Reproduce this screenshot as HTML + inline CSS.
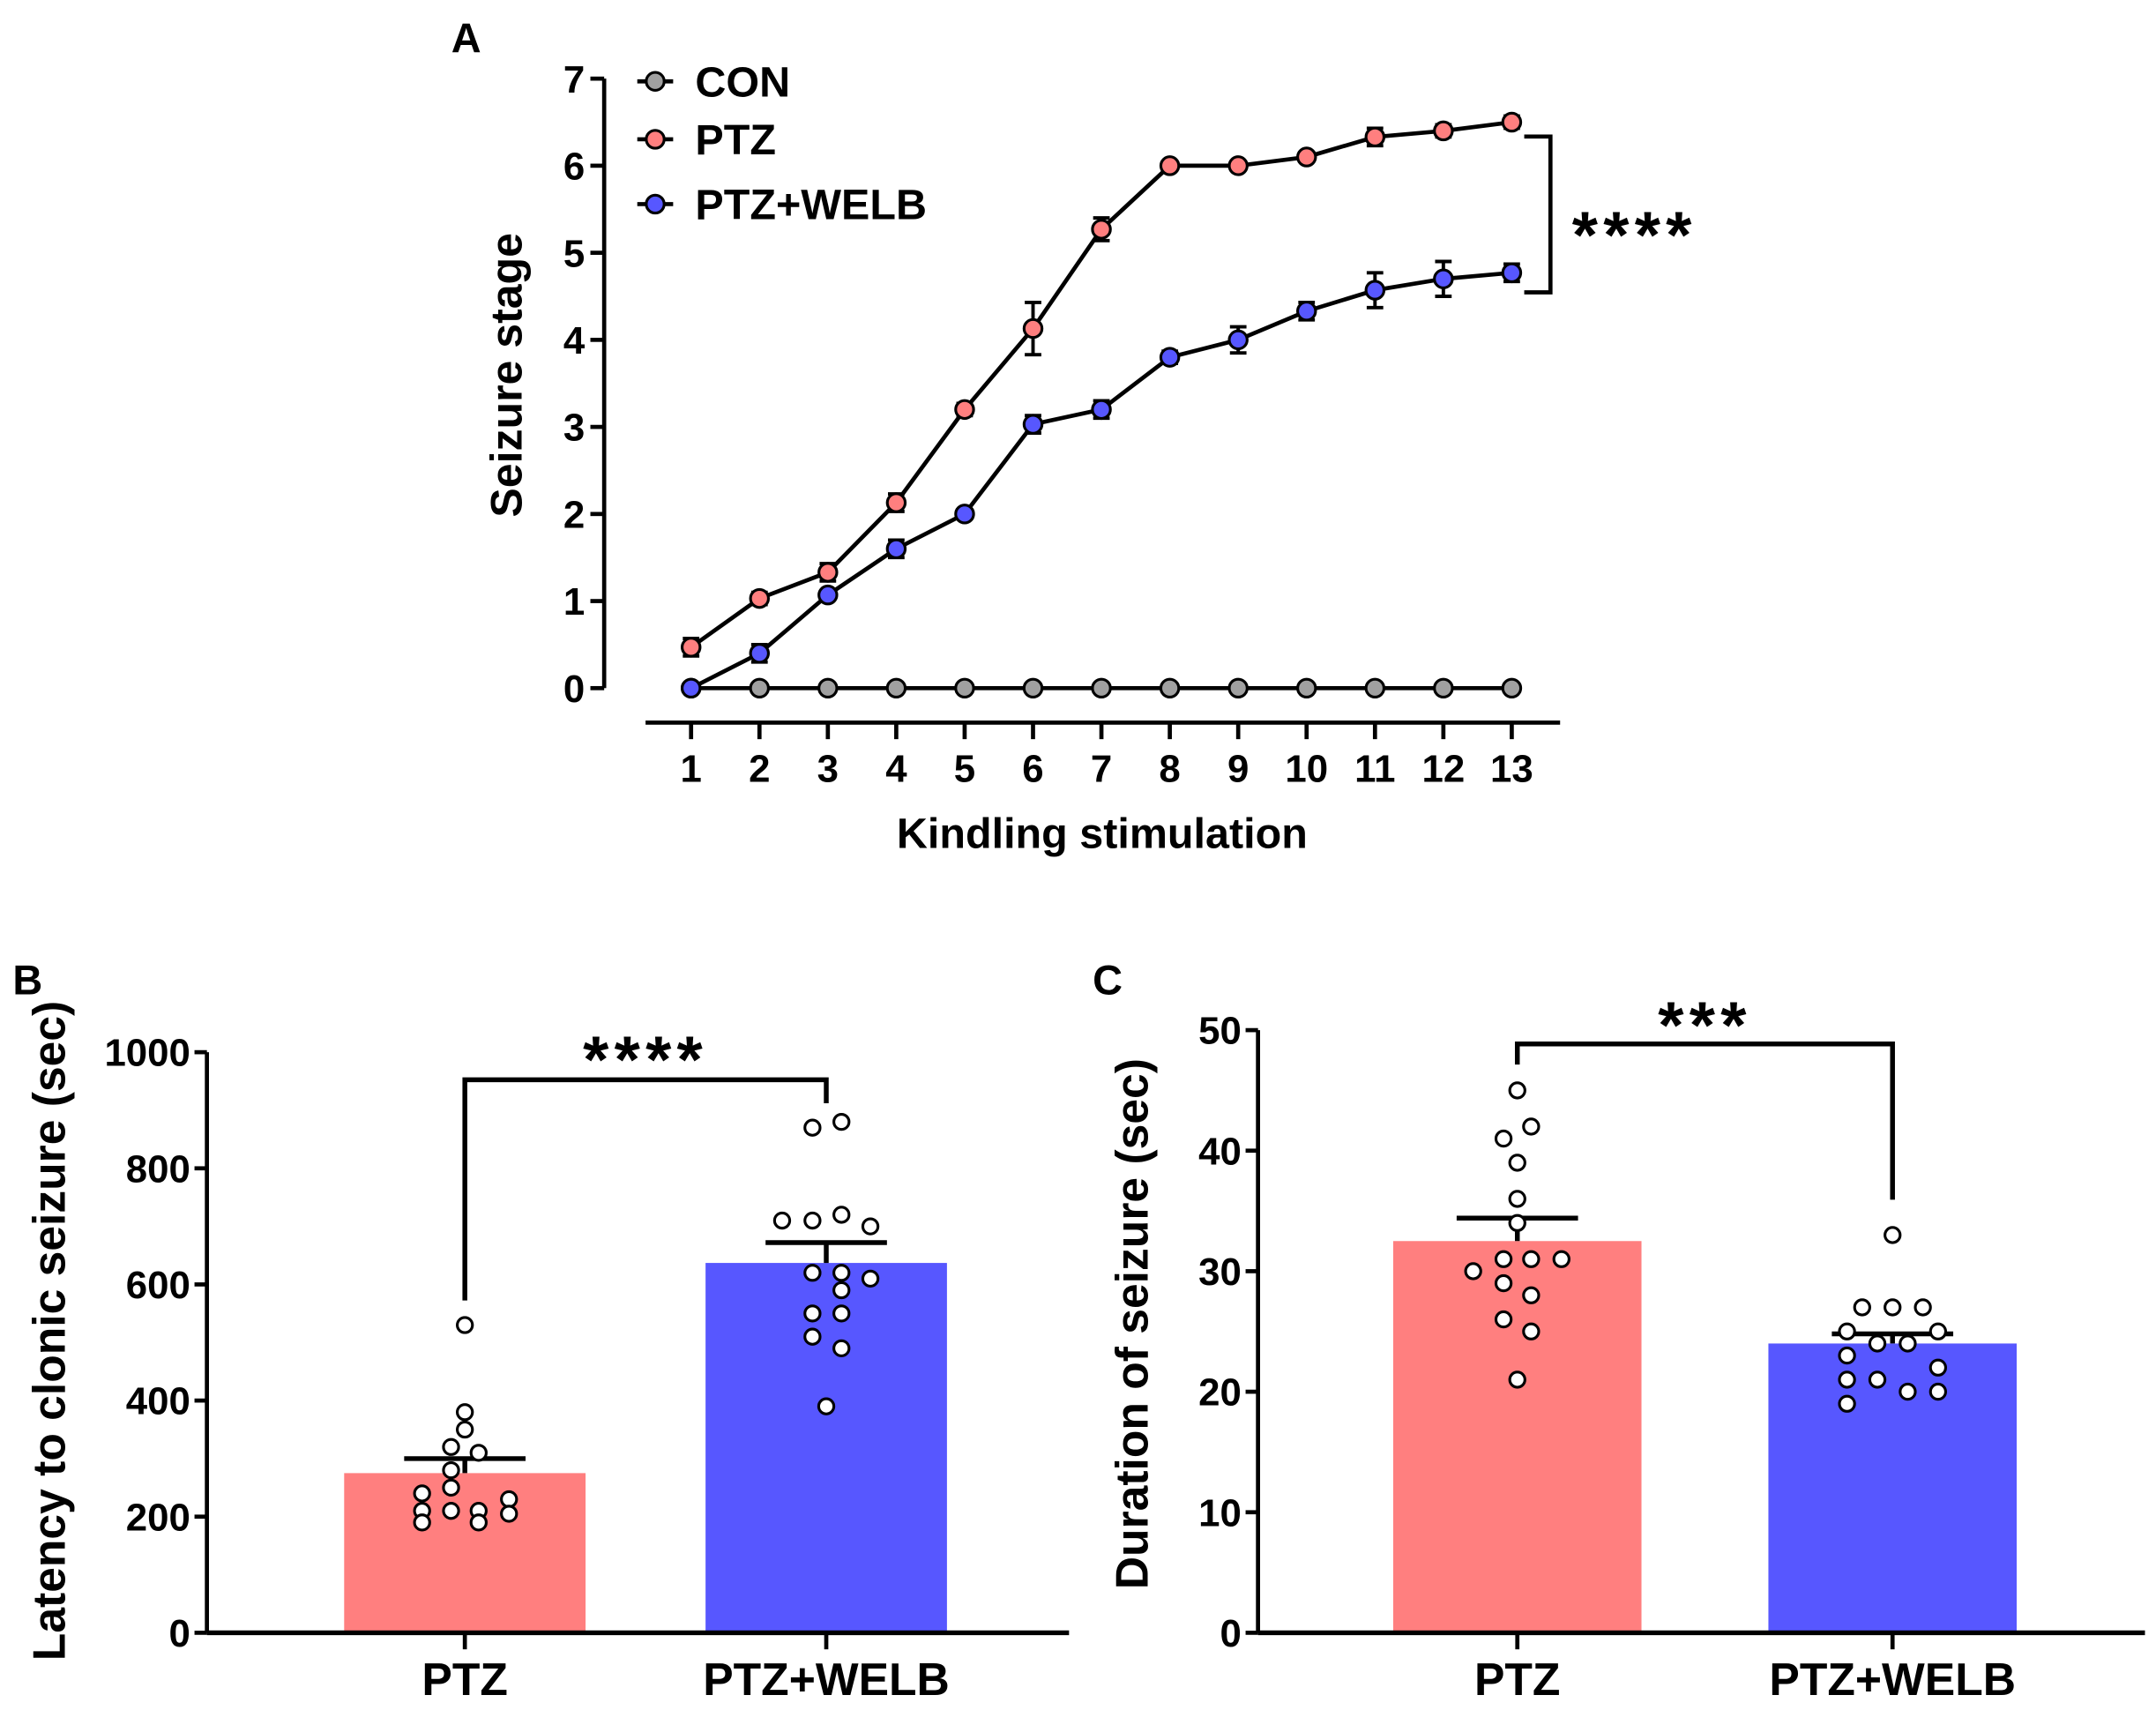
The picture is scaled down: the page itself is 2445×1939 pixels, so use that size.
<!DOCTYPE html>
<html><head><meta charset="utf-8"><style>
html,body{margin:0;padding:0;background:#fff;}
svg{display:block;font-family:"Liberation Sans",Arial,sans-serif;font-weight:bold;}
</style></head><body>
<svg id="fig" width="2445" height="1939" viewBox="0 0 1563 1240" preserveAspectRatio="none" xmlns="http://www.w3.org/2000/svg"></svg>
<script>
// Panel A data
const stimLabels = [1,2,3,4,5,6,7,8,9,10,11,12,13];
const conMean = [0,0,0,0,0,0,0,0,0,0,0,0,0];
const ptzMean = [0.47,1.03,1.33,2.13,3.2,4.13,5.27,6,6,6.1,6.33,6.4,6.5];
const ptzErr = [0.1,0.07,0.1,0.1,0.07,0.3,0.13,0.03,0.03,0.05,0.1,0.07,0.07];
const welbMean = [0,0.4,1.07,1.6,2,3.03,3.2,3.8,4,4.33,4.57,4.7,4.77];
const welbErr = [0,0.1,0.05,0.1,0.03,0.1,0.1,0.07,0.15,0.1,0.2,0.2,0.1];
const aTicks = [0,1,2,3,4,5,6,7];
// Panel B data
const groups = ["PTZ","PTZ+WELB"];
const latMean = [275,637];
const latSem = [25,35];
const latTicks = [0,200,400,600,800,1000];
const latPtzDots = [530,380,350,320,310,280,250,240,230,210,210,210,205,190,190];
const latPtzOff = [0,0,0,-10,10,-10,-10,-31,32,-31,-10,10,32,-31,10];
const latWelbDots = [880,870,720,710,710,700,620,620,610,590,550,550,510,490,390];
const latWelbOff = [11,-10,11,-32,-10,32,-10,11,32,11,-10,11,-10,11,0];
// Panel C data
const durMean = [32.5,24];
const durSem = [1.9,0.8];
const durTicks = [0,10,20,30,40,50];
const durPtzDots = [45,42,41,39,36,34,31,31,31,30,29,28,26,25,21];
const durPtzOff = [0,10,-10,0,0,0,-10,10,32,-32,-10,10,-10,10,0];
const durWelbDots = [33,27,27,27,25,25,24,24,23,22,21,21,20,20,19];
const durWelbOff = [0,-22,0,22,-33,33,-11,11,-33,33,-33,-11,11,33,-33];

const NS="http://www.w3.org/2000/svg";
const svg=document.getElementById('fig');
function mk(tag,attrs,parent){const e=document.createElementNS(NS,tag);for(const k in attrs)e.setAttribute(k,attrs[k]);(parent||svg).appendChild(e);return e;}
function txt(s,attrs,parent){const e=mk('text',attrs,parent);e.textContent=s;return e;}
const PINK="#FF7F7F",BLUE="#5757FF",GREY="#A0A0A0";

// ===== Panel A =====
const ax=v=>501+(v-1)*49.58;
const ay=v=>499-v*63.14;
const gA=mk('g',{});


let t=txt('A',{x:338,y:38,'font-size':30,'text-anchor':'middle'},gA);

let l=mk('line',{x1:438,y1:ay(7),x2:438,y2:ay(0),stroke:'#000','stroke-width':3},gA);

aTicks.forEach(v=>{
  const tk=mk('line',{x1:428,y1:ay(v),x2:438,y2:ay(v),stroke:'#000','stroke-width':3},gA);
  
  const tl=txt(String(v),{x:424,y:ay(v)+10,'font-size':28,'text-anchor':'end'},gA);
  
});
l=mk('line',{x1:468,y1:524,x2:1131,y2:524,stroke:'#000','stroke-width':3},gA);

stimLabels.forEach(v=>{
  const tk=mk('line',{x1:ax(v),y1:524,x2:ax(v),y2:536,stroke:'#000','stroke-width':3},gA);
  
  const tl=txt(String(v),{x:ax(v),y:567,'font-size':28,'text-anchor':'middle'},gA);
  
});
t=txt('Kindling stimulation',{x:799,y:615,'font-size':31,'text-anchor':'middle'},gA);

t=txt('Seizure stage',{x:0,y:0,'font-size':32,'text-anchor':'middle',transform:'translate(378,272) rotate(-90)'},gA);

function series(mean,err,color,name){
  const g=mk('g',{},gA);
  
  const pts=mean.map((v,i)=>ax(stimLabels[i])+','+ay(v)).join(' ');
  const pl=mk('polyline',{points:pts,fill:'none',stroke:'#000','stroke-width':3},g);
  
  mean.forEach((v,i)=>{
    const x=ax(stimLabels[i]);
    if(err&&err[i]>0){
      const e=mk('path',{d:`M${x},${ay(v+err[i])}V${ay(v-err[i])}M${x-6},${ay(v+err[i])}h12M${x-6},${ay(v-err[i])}h12`,stroke:'#000','stroke-width':2.5,fill:'none'},g);
      
    }
    const c=mk('circle',{cx:x,cy:ay(v),r:6.5,fill:color,stroke:'#000','stroke-width':2},g);
    
  });
}
series(conMean,null,GREY,'con');
series(welbMean,welbErr,BLUE,'ptz-welb');
series(ptzMean,ptzErr,PINK,'ptz');
[['CON',GREY,59],['PTZ',PINK,101],['PTZ+WELB',BLUE,148]].forEach(([n,c,y])=>{
  const g=mk('g',{},gA);
  
  mk('line',{x1:462,y1:y,x2:488,y2:y,stroke:'#000','stroke-width':3},g);
  mk('circle',{cx:475,cy:y,r:6.5,fill:c,stroke:'#000','stroke-width':2},g);
  txt(n,{x:504,y:y+11,'font-size':31},g);
});
l=mk('path',{d:'M1105,99H1124V212H1105',stroke:'#000','stroke-width':3,fill:'none'},gA);

t=txt('****',{x:1185,y:187,'font-size':48,'text-anchor':'middle','letter-spacing':4},gA);


// ===== Bar panels =====
function barPanel(opt){
  const g=mk('g',{});
  
  const y=v=>opt.y0-(v-0)*(opt.y0-opt.ytop)/opt.ymax;
  let e=txt(opt.label,{x:opt.lx,y:721,'font-size':30,'text-anchor':'middle'},g);
  
  e=mk('line',{x1:opt.ax,y1:y(opt.ymax),x2:opt.ax,y2:opt.y0,stroke:'#000','stroke-width':3},g);
  
  opt.ticks.forEach(v=>{
    const tk=mk('line',{x1:opt.ax-9,y1:y(v),x2:opt.ax,y2:y(v),stroke:'#000','stroke-width':3},g);
    
    const tl=txt(String(v),{x:opt.ax-12,y:y(v)+10,'font-size':28,'text-anchor':'end'},g);
    
  });
  e=txt(opt.title,{x:0,y:0,'font-size':33,'text-anchor':'middle',transform:`translate(${opt.tx},${opt.ty}) rotate(-90)`},g);
  
  opt.means.forEach((m,i)=>{
    const cx=opt.cx[i],w=opt.bw;
    const b=mk('rect',{x:cx-w/2,y:y(m),width:w,height:opt.y0-y(m),fill:opt.colors[i]},g);
    
    const eb=mk('path',{d:`M${cx},${y(m)}V${y(m+opt.sem[i])}M${cx-44},${y(m+opt.sem[i])}h88`,stroke:'#000','stroke-width':3.5,fill:'none'},g);
    
    opt.dots[i].forEach((v,j)=>{
      const d=mk('circle',{cx:cx+opt.offs[i][j],cy:y(v),r:5.5,fill:'#fff',stroke:'#000','stroke-width':2},g);
      
    });
    const tk=mk('line',{x1:cx,y1:opt.y0,x2:cx,y2:opt.y0+12,stroke:'#000','stroke-width':3},g);
    
    const tl=txt(groups[i],{x:cx,y:1229,'font-size':33,'text-anchor':'middle'},g);
    
  });
  e=mk('line',{x1:opt.ax,y1:opt.y0,x2:opt.xend,y2:opt.y0,stroke:'#000','stroke-width':3.5},g);
  
  e=mk('path',{d:`M${opt.cx[0]},${opt.br[0]}V${opt.br[1]}H${opt.cx[1]}V${opt.br[2]}`,stroke:'#000','stroke-width':3.5,fill:'none'},g);
  
  e=txt(opt.stars,{x:(opt.cx[0]+opt.cx[1])/2,y:opt.sy,'font-size':48,'text-anchor':'middle','letter-spacing':4},g);
  
}
barPanel({name:'panel-b',label:'B',lx:20,ax:150,y0:1184,ytop:763,ymax:1000,ticks:latTicks,
  title:'Latency to clonic seizure (sec)',tx:47,ty:965,means:latMean,sem:latSem,cx:[337,599],bw:175,
  colors:[PINK,BLUE],dots:[latPtzDots,latWelbDots],offs:[latPtzOff,latWelbOff],xend:775,
  br:[943,783,800],stars:'****',sy:785});
barPanel({name:'panel-c',label:'C',lx:803,ax:912,y0:1184,ytop:747,ymax:50,ticks:durTicks,
  title:'Duration of seizure (sec)',tx:832,ty:960,means:durMean,sem:durSem,cx:[1100,1372],bw:180,
  colors:[PINK,BLUE],dots:[durPtzDots,durWelbDots],offs:[durPtzOff,durWelbOff],xend:1555,
  br:[772,757,870],stars:'***',sy:760});
</script>
</body></html>
